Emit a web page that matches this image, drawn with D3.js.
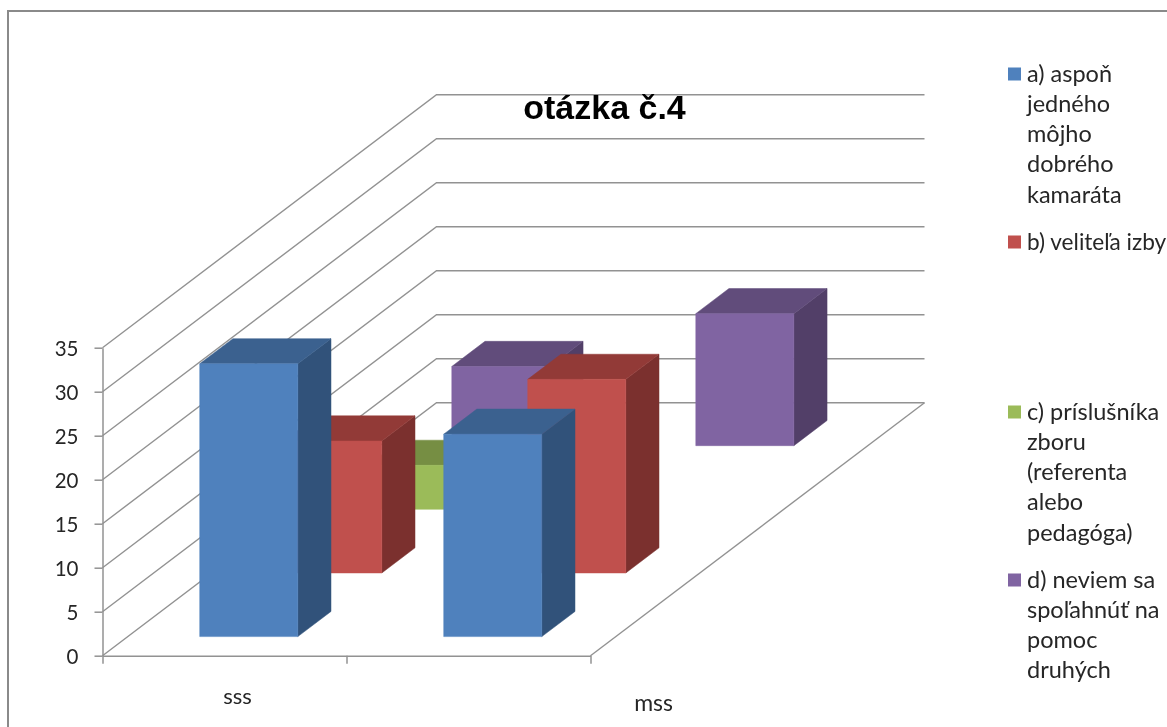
<!DOCTYPE html>
<html lang="sk"><head><meta charset="utf-8">
<script src="https://cdn.jsdelivr.net/npm/d3@7"></script>
<style>
html,body{margin:0;padding:0;background:#fff;overflow:hidden}
svg{display:block;filter:blur(0.4px)}
text{font-family:Lato,"Open Sans",sans-serif;fill:#262626}
</style></head><body><svg id="c" width="1167" height="727"></svg>
<script>
const categories = ["sss", "mss"];
const seriesNames = ["a", "b", "c", "d"];
const seriesA = [31, 23];
const seriesB = [15, 22];
const seriesC = [5, 0];
const seriesD = [9, 15];
const yTicks = [0, 5, 10, 15, 20, 25, 30, 35];
const legendA = ["a) aspoň", "jedného", "môjho", "dobrého", "kamaráta"];
const legendB = ["b) veliteľa izby"];
const legendC = ["c) príslušníka", "zboru", "(referenta", "alebo", "pedagóga)"];
const legendD = ["d) neviem sa", "spoľahnúť na", "pomoc", "druhých"];
const title = "otázka č.4";

const colors = {
  a: {front:"#4F81BD", top:"#3B618F", side:"#31527A"},
  b: {front:"#C0504D", top:"#923A37", side:"#7B302E"},
  c: {front:"#9BBB59", top:"#768E43", side:"#627637"},
  d: {front:"#8064A2", top:"#614C7B", side:"#523F68"}
};
const values = {a:seriesA, b:seriesB, c:seriesC, d:seriesD};

const svg = d3.select("#c");
const GRID = "#929292";

// plot geometry
const ox = 102.5, oy = 655.7, plotW = 488, depthX = 334, depthY = 253;
const y = d3.scaleLinear().domain([0, 35]).range([0, 308]);
const xBand = d3.scaleBand().domain(categories).range([0, plotW]).paddingInner(0.598).paddingOuter(0.299).align(0.4935);
const zBand = d3.scaleBand().domain(seriesNames).range([0, 1.005]).paddingInner(0.605).paddingOuter(0.3);
const P = (px, d, v) => [ox + px + d * depthX, oy - d * depthY - y(v)];
const poly = pts => "M" + pts.map(p => p.join(",")).join("L") + "Z";

// frame
svg.append("path").attr("d","M8,727V11H1167").attr("fill","none").attr("stroke","#8a8a8a").attr("stroke-width",2);

// walls
const gridG = svg.append("g").attr("fill","none").attr("stroke",GRID).attr("stroke-width",1.4);
yTicks.forEach(t => {
  gridG.append("path").attr("d", d3.line()([P(0,0,t), P(0,1,t), P(plotW,1,t)]));
});
gridG.append("path").attr("d", d3.line()([P(plotW,0,0), P(plotW,1,0)]));

// axes
const yAxisScale = d3.scaleLinear().domain([0,35]).range([oy, oy - 308]);
const yAxis = svg.append("g").attr("transform",`translate(${ox},0)`)
  .call(d3.axisLeft(yAxisScale).tickValues(yTicks).tickSize(8).tickSizeOuter(0).tickPadding(16));
const xAxisScale = d3.scaleLinear().domain([0, categories.length]).range([ox, ox + plotW]);
const xAxis = svg.append("g").attr("transform",`translate(0,${oy})`)
  .call(d3.axisBottom(xAxisScale).tickValues(d3.range(categories.length + 1)).tickFormat("").tickSize(8).tickSizeOuter(0));
[yAxis, xAxis].forEach(g => {
  g.selectAll("path,line").attr("stroke",GRID).attr("stroke-width",1.5);
});
yAxis.selectAll("text").attr("font-size",20.5).attr("font-family","Lato").attr("fill","#262626").attr("transform","translate(0,1.5)");

// bars, back to front
const barsG = svg.append("g");
const face = (pts, fill) => barsG.append("path").attr("d", poly(pts)).attr("fill", fill).attr("stroke", fill).attr("stroke-width", 0.5);
[...seriesNames].reverse().forEach(s => {
  categories.forEach((c, i) => {
    const v = values[s][i];
    if (!v) return;
    const x0 = xBand(c), x1 = x0 + xBand.bandwidth();
    const d0 = zBand(s), d1 = d0 + zBand.bandwidth();
    const col = colors[s];
    face([P(x1,d0,0),P(x1,d1,0),P(x1,d1,v),P(x1,d0,v)], col.side);
    face([P(x0,d0,v),P(x1,d0,v),P(x1,d1,v),P(x0,d1,v)], col.top);
    face([P(x0,d0,0),P(x1,d0,0),P(x1,d0,v),P(x0,d0,v)], col.front);
  });
});

// category labels
const catLabelDx = [14, 186], catLabelY = [704, 711];
const catLabelSize = [22, 23];
categories.forEach((c, i) => {
  svg.append("text").attr("x", ox + xBand(c) + xBand.bandwidth()/2 + catLabelDx[i]).attr("y", catLabelY[i])
    .attr("text-anchor","middle").attr("font-size",catLabelSize[i]).text(c);
});

// title
svg.append("text").attr("x",604.5).attr("y",119).attr("text-anchor","middle")
  .style("font-family","'Liberation Sans',Arial,sans-serif").style("fill","#000")
  .attr("font-weight","bold").attr("font-size",34).text(title);

// legend
const legendEntries = [
  {k:"a", lines:legendA, top:74, size:23.5},
  {k:"b", lines:legendB, top:242, size:22.6},
  {k:"c", lines:legendC, top:412, size:23.5},
  {k:"d", lines:legendD, top:580, size:23.5}
];
const lineH = 30.3;
legendEntries.forEach(e => {
  svg.append("rect").attr("x",1008).attr("y",e.top-6.5).attr("width",13).attr("height",13).attr("fill",colors[e.k].front);
  const t = svg.append("text").attr("font-size",e.size);
  e.lines.forEach((l, i) => t.append("tspan").attr("x",1027).attr("y",e.top + 7.5 + i*lineH).text(l));
});
</script></body></html>
